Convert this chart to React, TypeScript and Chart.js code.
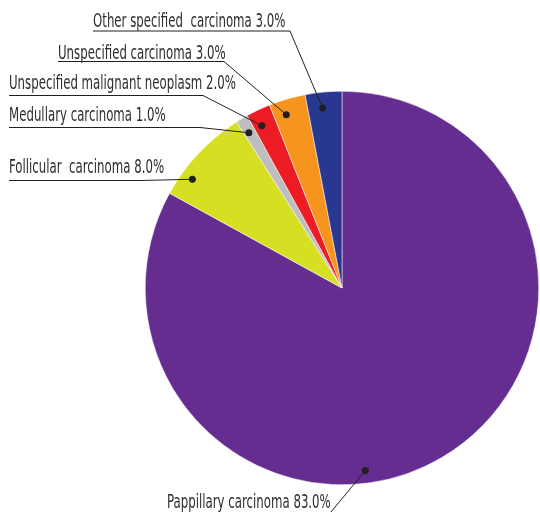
import React, { useEffect, useRef } from "react";
import { Chart, registerables } from "chart.js";

Chart.register(...registerables);

const categories = [
  "Pappillary carcinoma",
  "Follicular  carcinoma",
  "Medullary carcinoma",
  "Unspecified malignant neoplasm",
  "Unspecified carcinoma",
  "Other specified  carcinoma",
];
const percentages = [83, 8, 1, 2, 3, 3];
const sliceColors = ["#662D91", "#D7DF23", "#BCBEC0", "#ED1C24", "#F7941D", "#283891"];

// callout layout: t = position along the slice's arc, rf = fraction of radius
const callouts = [
  { t: 0.578, rf: 0.935, textX: 167, baseY: 507.5, lineY: 518, lineEndX: 326 },
  { t: 0.25, rf: 0.94, textX: 9, baseY: 172.5, lineY: 180.5, lineEndX: 140 },
  { t: 0.4, rf: 0.92, textX: 9, baseY: 121, lineY: 127.5, lineEndX: 200 },
  { t: 0.35, rf: 0.92, textX: 9, baseY: 89, lineY: 95.5, lineEndX: 203 },
  { t: 0.35, rf: 0.925, textX: 58, baseY: 58.5, lineY: 61.5, lineEndX: 224 },
  { t: 0.43, rf: 0.92, textX: 93, baseY: 26.5, lineY: 31, lineEndX: 290 },
];

const FONT = '20px "Liberation Sans Narrow", "DejaVu Sans Condensed", "Roboto", sans-serif';

const calloutPlugin = {
  id: "callouts",
  afterDraw(chart: any) {
    const ctx = chart.ctx as CanvasRenderingContext2D;
    const meta = chart.getDatasetMeta(0);
    ctx.save();
    ctx.font = FONT;
    const ref = ctx.measureText("Unspecified malignant neoplasm 2.0%").width;
    const sx = 227 / ref;
    meta.data.forEach((arc: any, i: number) => {
      const c = callouts[i];
      const p = arc.getProps(["x", "y", "startAngle", "endAngle", "outerRadius"], true);
      const a = p.startAngle + c.t * (p.endAngle - p.startAngle);
      const dx = p.x + Math.cos(a) * p.outerRadius * c.rf;
      const dy = p.y + Math.sin(a) * p.outerRadius * c.rf;
      // leader line
      ctx.strokeStyle = "#231F20";
      ctx.lineWidth = 1;
      ctx.beginPath();
      ctx.moveTo(c.textX, c.lineY);
      ctx.lineTo(c.lineEndX, c.lineY);
      ctx.lineTo(dx, dy);
      ctx.stroke();
      // dot
      ctx.fillStyle = "#231F20";
      ctx.beginPath();
      ctx.arc(dx, dy, 3.5, 0, Math.PI * 2);
      ctx.fill();
      // text
      const label = `${categories[i]} ${percentages[i].toFixed(1)}%`;
      ctx.fillStyle = "#2E2E2E";
      ctx.textBaseline = "alphabetic";
      ctx.textAlign = "left";
      ctx.save();
      ctx.translate(c.textX, c.baseY);
      ctx.scale(sx, 1);
      ctx.fillText(label, 0, 0);
      ctx.restore();
    });
    ctx.restore();
  },
};

export default function App() {
  const ref = useRef<HTMLCanvasElement>(null);
  useEffect(() => {
    if (!ref.current) return;
    const chart = new Chart(ref.current, {
      type: "pie",
      data: {
        labels: categories,
        datasets: [
          {
            data: percentages,
            backgroundColor: sliceColors,
            borderColor: "#ffffff",
            borderWidth: 0.5,
          },
        ],
      },
      options: {
        responsive: false,
        animation: false,
        layout: { padding: { left: 145, right: 1, top: 91, bottom: 27 } },
        plugins: { legend: { display: false }, tooltip: { enabled: false } },
      },
      plugins: [calloutPlugin],
    });
    return () => chart.destroy();
  }, []);
  return (
    <div style={{ position: "absolute", left: 0, top: 0, width: 540, height: 512, background: "#fff" }}>
      <canvas ref={ref} width={540} height={512} style={{ width: 540, height: 512, display: "block" }} />
    </div>
  );
}
